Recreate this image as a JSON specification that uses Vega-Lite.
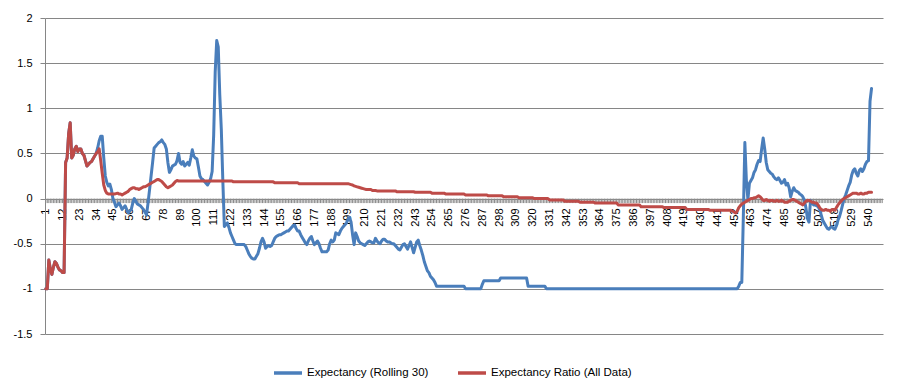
{
"$schema": "https://vega.github.io/schema/vega-lite/v6.json",
"width": 838, "height": 316,
"autosize": "none",
"padding": {"left": 45, "top": 18, "right": 19, "bottom": 52},
"background": "white",
"config": {"view": {"stroke": null}, "font": "Liberation Sans", "axisX": {"labelOverlap": false}},
"data": {"values": [
{"i":1,"a":-1,"b":-1},{"i":2,"a":-1,"b":-1},{"i":3,"a":-0.68,"b":-0.68},{"i":4,"a":-0.78,"b":-0.78},{"i":5,"a":-0.84,"b":-0.84},
{"i":6,"a":-0.76,"b":-0.76},{"i":7,"a":-0.7,"b":-0.7},{"i":8,"a":-0.72,"b":-0.72},{"i":9,"a":-0.76,"b":-0.76},{"i":10,"a":-0.79,"b":-0.79},
{"i":11,"a":-0.8,"b":-0.8},{"i":12,"a":-0.82,"b":-0.82},{"i":13,"a":-0.82,"b":-0.82},{"i":14,"a":0.4,"b":0.4},{"i":15,"a":0.45,"b":0.45},
{"i":16,"a":0.72,"b":0.72},{"i":17,"a":0.84,"b":0.84},{"i":18,"a":0.45,"b":0.45},{"i":19,"a":0.48,"b":0.48},{"i":20,"a":0.55,"b":0.55},
{"i":21,"a":0.58,"b":0.58},{"i":22,"a":0.52,"b":0.52},{"i":23,"a":0.55,"b":0.55},{"i":24,"a":0.55,"b":0.55},{"i":25,"a":0.5,"b":0.5},
{"i":26,"a":0.48,"b":0.48},{"i":27,"a":0.42,"b":0.42},{"i":28,"a":0.36,"b":0.36},{"i":29,"a":0.38,"b":0.38},{"i":30,"a":0.4,"b":0.4},
{"i":31,"a":0.41,"b":0.41},{"i":32,"a":0.44,"b":0.44},{"i":33,"a":0.47,"b":0.47},{"i":34,"a":0.5,"b":0.5},{"i":35,"a":0.56,"b":0.52},
{"i":36,"a":0.64,"b":0.55},{"i":37,"a":0.69,"b":0.42},{"i":38,"a":0.69,"b":0.28},{"i":39,"a":0.45,"b":0.15},{"i":40,"a":0.25,"b":0.09},
{"i":41,"a":0.18,"b":0.06},{"i":42,"a":0.14,"b":0.05},{"i":43,"a":0.16,"b":0.05},{"i":44,"a":0.1,"b":0.05},{"i":45,"a":0,"b":0.05},
{"i":46,"a":-0.04,"b":0.05},{"i":47,"a":-0.09,"b":0.055},{"i":48,"a":-0.07,"b":0.06},{"i":49,"a":-0.05,"b":0.05},{"i":50,"a":-0.08,"b":0.05},
{"i":51,"a":-0.12,"b":0.04},{"i":52,"a":-0.1,"b":0.05},{"i":53,"a":-0.08,"b":0.06},{"i":54,"a":-0.12,"b":0.07},{"i":55,"a":-0.16,"b":0.08},
{"i":56,"a":-0.14,"b":0.1},{"i":57,"a":-0.12,"b":0.11},{"i":58,"a":-0.05,"b":0.12},{"i":59,"a":0,"b":0.12},{"i":60,"a":-0.03,"b":0.11},
{"i":61,"a":-0.06,"b":0.11},{"i":62,"a":-0.07,"b":0.1},{"i":63,"a":-0.08,"b":0.11},{"i":64,"a":-0.1,"b":0.12},{"i":65,"a":-0.12,"b":0.13},
{"i":66,"a":-0.15,"b":0.13},{"i":67,"a":-0.18,"b":0.14},{"i":68,"a":-0.05,"b":0.15},{"i":69,"a":0.1,"b":0.16},{"i":70,"a":0.25,"b":0.17},
{"i":71,"a":0.4,"b":0.18},{"i":72,"a":0.56,"b":0.19},{"i":73,"a":0.58,"b":0.2},{"i":74,"a":0.6,"b":0.21},{"i":75,"a":0.62,"b":0.21},
{"i":76,"a":0.63,"b":0.2},{"i":77,"a":0.65,"b":0.19},{"i":78,"a":0.62,"b":0.17},{"i":79,"a":0.6,"b":0.15},{"i":80,"a":0.55,"b":0.13},
{"i":81,"a":0.4,"b":0.12},{"i":82,"a":0.29,"b":0.13},{"i":83,"a":0.32,"b":0.14},{"i":84,"a":0.36,"b":0.15},{"i":85,"a":0.37,"b":0.17},
{"i":86,"a":0.38,"b":0.19},{"i":87,"a":0.42,"b":0.2},{"i":88,"a":0.5,"b":0.195},{"i":89,"a":0.4,"b":0.195},{"i":90,"a":0.38,"b":0.195},
{"i":91,"a":0.41,"b":0.195},{"i":92,"a":0.36,"b":0.195},{"i":93,"a":0.38,"b":0.195},{"i":94,"a":0.4,"b":0.195},{"i":95,"a":0.37,"b":0.195},
{"i":96,"a":0.45,"b":0.195},{"i":97,"a":0.54,"b":0.195},{"i":98,"a":0.47,"b":0.195},{"i":99,"a":0.45,"b":0.195},{"i":100,"a":0.44,"b":0.195},
{"i":101,"a":0.35,"b":0.195},{"i":102,"a":0.25,"b":0.195},{"i":103,"a":0.22,"b":0.195},{"i":104,"a":0.21,"b":0.195},{"i":105,"a":0.19,"b":0.195},
{"i":106,"a":0.17,"b":0.195},{"i":107,"a":0.15,"b":0.195},{"i":108,"a":0.18,"b":0.195},{"i":109,"a":0.22,"b":0.195},{"i":110,"a":0.3,"b":0.195},
{"i":111,"a":0.7,"b":0.195},{"i":112,"a":1.4,"b":0.195},{"i":113,"a":1.75,"b":0.195},{"i":114,"a":1.68,"b":0.195},{"i":115,"a":1.15,"b":0.195},
{"i":116,"a":0.77,"b":0.195},{"i":117,"a":0.2,"b":0.195},{"i":118,"a":-0.31,"b":0.195},{"i":119,"a":-0.29,"b":0.195},{"i":120,"a":-0.27,"b":0.195},
{"i":121,"a":-0.32,"b":0.195},{"i":122,"a":-0.38,"b":0.195},{"i":123,"a":-0.42,"b":0.195},{"i":124,"a":-0.46,"b":0.185},{"i":125,"a":-0.5,"b":0.185},
{"i":126,"a":-0.51,"b":0.185},{"i":127,"a":-0.51,"b":0.185},{"i":128,"a":-0.51,"b":0.185},{"i":129,"a":-0.51,"b":0.185},{"i":130,"a":-0.51,"b":0.185},
{"i":131,"a":-0.51,"b":0.185},{"i":132,"a":-0.53,"b":0.185},{"i":133,"a":-0.57,"b":0.185},{"i":134,"a":-0.61,"b":0.185},{"i":135,"a":-0.64,"b":0.185},
{"i":136,"a":-0.66,"b":0.185},{"i":137,"a":-0.67,"b":0.185},{"i":138,"a":-0.67,"b":0.185},{"i":139,"a":-0.64,"b":0.185},{"i":140,"a":-0.61,"b":0.185},
{"i":141,"a":-0.55,"b":0.185},{"i":142,"a":-0.48,"b":0.185},{"i":143,"a":-0.44,"b":0.185},{"i":144,"a":-0.48,"b":0.185},{"i":145,"a":-0.55,"b":0.185},
{"i":146,"a":-0.53,"b":0.185},{"i":147,"a":-0.52,"b":0.185},{"i":148,"a":-0.53,"b":0.185},{"i":149,"a":-0.52,"b":0.185},{"i":150,"a":-0.48,"b":0.185},
{"i":151,"a":-0.44,"b":0.175},{"i":152,"a":-0.42,"b":0.175},{"i":153,"a":-0.41,"b":0.175},{"i":154,"a":-0.4,"b":0.175},{"i":155,"a":-0.4,"b":0.175},
{"i":156,"a":-0.39,"b":0.175},{"i":157,"a":-0.38,"b":0.175},{"i":158,"a":-0.37,"b":0.175},{"i":159,"a":-0.36,"b":0.175},{"i":160,"a":-0.36,"b":0.175},
{"i":161,"a":-0.34,"b":0.175},{"i":162,"a":-0.32,"b":0.175},{"i":163,"a":-0.3,"b":0.175},{"i":164,"a":-0.29,"b":0.175},{"i":165,"a":-0.33,"b":0.175},
{"i":166,"a":-0.36,"b":0.175},{"i":167,"a":-0.36,"b":0.165},{"i":168,"a":-0.4,"b":0.165},{"i":169,"a":-0.43,"b":0.165},{"i":170,"a":-0.46,"b":0.165},
{"i":171,"a":-0.49,"b":0.165},{"i":172,"a":-0.51,"b":0.165},{"i":173,"a":-0.47,"b":0.165},{"i":174,"a":-0.44,"b":0.165},{"i":175,"a":-0.42,"b":0.165},
{"i":176,"a":-0.47,"b":0.165},{"i":177,"a":-0.51,"b":0.165},{"i":178,"a":-0.49,"b":0.165},{"i":179,"a":-0.47,"b":0.165},{"i":180,"a":-0.5,"b":0.165},
{"i":181,"a":-0.55,"b":0.165},{"i":182,"a":-0.59,"b":0.165},{"i":183,"a":-0.59,"b":0.165},{"i":184,"a":-0.59,"b":0.165},{"i":185,"a":-0.59,"b":0.165},
{"i":186,"a":-0.57,"b":0.165},{"i":187,"a":-0.5,"b":0.165},{"i":188,"a":-0.46,"b":0.165},{"i":189,"a":-0.48,"b":0.165},{"i":190,"a":-0.46,"b":0.165},
{"i":191,"a":-0.38,"b":0.165},{"i":192,"a":-0.39,"b":0.165},{"i":193,"a":-0.4,"b":0.165},{"i":194,"a":-0.36,"b":0.165},{"i":195,"a":-0.33,"b":0.165},
{"i":196,"a":-0.31,"b":0.165},{"i":197,"a":-0.29,"b":0.165},{"i":198,"a":-0.27,"b":0.165},{"i":199,"a":-0.23,"b":0.165},{"i":200,"a":-0.21,"b":0.16},
{"i":201,"a":-0.26,"b":0.155},{"i":202,"a":-0.4,"b":0.15},{"i":203,"a":-0.51,"b":0.14},{"i":204,"a":-0.38,"b":0.135},{"i":205,"a":-0.42,"b":0.13},
{"i":206,"a":-0.47,"b":0.125},{"i":207,"a":-0.49,"b":0.12},{"i":208,"a":-0.5,"b":0.115},{"i":209,"a":-0.51,"b":0.11},{"i":210,"a":-0.52,"b":0.105},
{"i":211,"a":-0.5,"b":0.1},{"i":212,"a":-0.48,"b":0.1},{"i":213,"a":-0.47,"b":0.1},{"i":214,"a":-0.48,"b":0.1},{"i":215,"a":-0.49,"b":0.09},
{"i":216,"a":-0.49,"b":0.09},{"i":217,"a":-0.44,"b":0.09},{"i":218,"a":-0.47,"b":0.085},{"i":219,"a":-0.49,"b":0.085},{"i":220,"a":-0.5,"b":0.085},
{"i":221,"a":-0.47,"b":0.085},{"i":222,"a":-0.45,"b":0.085},{"i":223,"a":-0.45,"b":0.085},{"i":224,"a":-0.47,"b":0.085},{"i":225,"a":-0.48,"b":0.085},
{"i":226,"a":-0.48,"b":0.085},{"i":227,"a":-0.49,"b":0.085},{"i":228,"a":-0.5,"b":0.085},{"i":229,"a":-0.5,"b":0.085},{"i":230,"a":-0.52,"b":0.085},
{"i":231,"a":-0.54,"b":0.075},{"i":232,"a":-0.56,"b":0.075},{"i":233,"a":-0.57,"b":0.075},{"i":234,"a":-0.54,"b":0.075},{"i":235,"a":-0.51,"b":0.075},
{"i":236,"a":-0.5,"b":0.075},{"i":237,"a":-0.53,"b":0.075},{"i":238,"a":-0.56,"b":0.075},{"i":239,"a":-0.52,"b":0.075},{"i":240,"a":-0.48,"b":0.075},
{"i":241,"a":-0.54,"b":0.075},{"i":242,"a":-0.6,"b":0.075},{"i":243,"a":-0.54,"b":0.07},{"i":244,"a":-0.48,"b":0.07},{"i":245,"a":-0.46,"b":0.07},
{"i":246,"a":-0.52,"b":0.07},{"i":247,"a":-0.57,"b":0.07},{"i":248,"a":-0.63,"b":0.07},{"i":249,"a":-0.7,"b":0.07},{"i":250,"a":-0.75,"b":0.07},
{"i":251,"a":-0.8,"b":0.07},{"i":252,"a":-0.82,"b":0.07},{"i":253,"a":-0.86,"b":0.07},{"i":254,"a":-0.88,"b":0.06},{"i":255,"a":-0.9,"b":0.06},
{"i":256,"a":-0.93,"b":0.06},{"i":257,"a":-0.97,"b":0.06},{"i":258,"a":-0.97,"b":0.06},{"i":259,"a":-0.97,"b":0.06},{"i":260,"a":-0.97,"b":0.06},
{"i":261,"a":-0.97,"b":0.06},{"i":262,"a":-0.97,"b":0.06},{"i":263,"a":-0.97,"b":0.05},{"i":264,"a":-0.97,"b":0.05},{"i":265,"a":-0.97,"b":0.05},
{"i":266,"a":-0.97,"b":0.05},{"i":267,"a":-0.97,"b":0.05},{"i":268,"a":-0.97,"b":0.05},{"i":269,"a":-0.97,"b":0.05},{"i":270,"a":-0.97,"b":0.05},
{"i":271,"a":-0.97,"b":0.05},{"i":272,"a":-0.97,"b":0.05},{"i":273,"a":-0.97,"b":0.05},{"i":274,"a":-0.97,"b":0.05},{"i":275,"a":-0.97,"b":0.05},
{"i":276,"a":-1,"b":0.04},{"i":277,"a":-1,"b":0.04},{"i":278,"a":-1,"b":0.04},{"i":279,"a":-1,"b":0.04},{"i":280,"a":-1,"b":0.04},
{"i":281,"a":-1,"b":0.04},{"i":282,"a":-1,"b":0.04},{"i":283,"a":-1,"b":0.04},{"i":284,"a":-1,"b":0.04},{"i":285,"a":-1,"b":0.04},
{"i":286,"a":-1,"b":0.04},{"i":287,"a":-0.95,"b":0.04},{"i":288,"a":-0.91,"b":0.04},{"i":289,"a":-0.91,"b":0.04},{"i":290,"a":-0.91,"b":0.04},
{"i":291,"a":-0.91,"b":0.03},{"i":292,"a":-0.91,"b":0.03},{"i":293,"a":-0.91,"b":0.03},{"i":294,"a":-0.91,"b":0.03},{"i":295,"a":-0.91,"b":0.03},
{"i":296,"a":-0.91,"b":0.03},{"i":297,"a":-0.91,"b":0.03},{"i":298,"a":-0.91,"b":0.03},{"i":299,"a":-0.88,"b":0.03},{"i":300,"a":-0.88,"b":0.03},
{"i":301,"a":-0.88,"b":0.02},{"i":302,"a":-0.88,"b":0.02},{"i":303,"a":-0.88,"b":0.02},{"i":304,"a":-0.88,"b":0.02},{"i":305,"a":-0.88,"b":0.02},
{"i":306,"a":-0.88,"b":0.02},{"i":307,"a":-0.88,"b":0.02},{"i":308,"a":-0.88,"b":0.02},{"i":309,"a":-0.88,"b":0.02},{"i":310,"a":-0.88,"b":0.02},
{"i":311,"a":-0.88,"b":0.01},{"i":312,"a":-0.88,"b":0.01},{"i":313,"a":-0.88,"b":0.01},{"i":314,"a":-0.88,"b":0.01},{"i":315,"a":-0.88,"b":0.01},
{"i":316,"a":-0.88,"b":0.01},{"i":317,"a":-0.97,"b":0.01},{"i":318,"a":-0.97,"b":0.01},{"i":319,"a":-0.97,"b":0.01},{"i":320,"a":-0.97,"b":0.01},
{"i":321,"a":-0.97,"b":0},{"i":322,"a":-0.97,"b":0},{"i":323,"a":-0.97,"b":0},{"i":324,"a":-0.97,"b":0},{"i":325,"a":-0.97,"b":0},
{"i":326,"a":-0.97,"b":0},{"i":327,"a":-0.97,"b":0},{"i":328,"a":-0.97,"b":0},{"i":329,"a":-1,"b":0},{"i":330,"a":-1,"b":0},
{"i":331,"a":-1,"b":-0.015},{"i":332,"a":-1,"b":-0.015},{"i":333,"a":-1,"b":-0.015},{"i":334,"a":-1,"b":-0.015},{"i":335,"a":-1,"b":-0.015},
{"i":336,"a":-1,"b":-0.015},{"i":337,"a":-1,"b":-0.015},{"i":338,"a":-1,"b":-0.015},{"i":339,"a":-1,"b":-0.015},{"i":340,"a":-1,"b":-0.015},
{"i":341,"a":-1,"b":-0.03},{"i":342,"a":-1,"b":-0.03},{"i":343,"a":-1,"b":-0.03},{"i":344,"a":-1,"b":-0.03},{"i":345,"a":-1,"b":-0.03},
{"i":346,"a":-1,"b":-0.03},{"i":347,"a":-1,"b":-0.03},{"i":348,"a":-1,"b":-0.03},{"i":349,"a":-1,"b":-0.03},{"i":350,"a":-1,"b":-0.03},
{"i":351,"a":-1,"b":-0.04},{"i":352,"a":-1,"b":-0.04},{"i":353,"a":-1,"b":-0.04},{"i":354,"a":-1,"b":-0.04},{"i":355,"a":-1,"b":-0.04},
{"i":356,"a":-1,"b":-0.04},{"i":357,"a":-1,"b":-0.04},{"i":358,"a":-1,"b":-0.04},{"i":359,"a":-1,"b":-0.04},{"i":360,"a":-1,"b":-0.04},
{"i":361,"a":-1,"b":-0.05},{"i":362,"a":-1,"b":-0.05},{"i":363,"a":-1,"b":-0.05},{"i":364,"a":-1,"b":-0.05},{"i":365,"a":-1,"b":-0.05},
{"i":366,"a":-1,"b":-0.05},{"i":367,"a":-1,"b":-0.05},{"i":368,"a":-1,"b":-0.05},{"i":369,"a":-1,"b":-0.05},{"i":370,"a":-1,"b":-0.05},
{"i":371,"a":-1,"b":-0.05},{"i":372,"a":-1,"b":-0.05},{"i":373,"a":-1,"b":-0.05},{"i":374,"a":-1,"b":-0.05},{"i":375,"a":-1,"b":-0.05},
{"i":376,"a":-1,"b":-0.07},{"i":377,"a":-1,"b":-0.07},{"i":378,"a":-1,"b":-0.07},{"i":379,"a":-1,"b":-0.07},{"i":380,"a":-1,"b":-0.07},
{"i":381,"a":-1,"b":-0.07},{"i":382,"a":-1,"b":-0.07},{"i":383,"a":-1,"b":-0.07},{"i":384,"a":-1,"b":-0.07},{"i":385,"a":-1,"b":-0.07},
{"i":386,"a":-1,"b":-0.07},{"i":387,"a":-1,"b":-0.07},{"i":388,"a":-1,"b":-0.07},{"i":389,"a":-1,"b":-0.07},{"i":390,"a":-1,"b":-0.07},
{"i":391,"a":-1,"b":-0.09},{"i":392,"a":-1,"b":-0.09},{"i":393,"a":-1,"b":-0.09},{"i":394,"a":-1,"b":-0.09},{"i":395,"a":-1,"b":-0.09},
{"i":396,"a":-1,"b":-0.09},{"i":397,"a":-1,"b":-0.09},{"i":398,"a":-1,"b":-0.09},{"i":399,"a":-1,"b":-0.09},{"i":400,"a":-1,"b":-0.09},
{"i":401,"a":-1,"b":-0.09},{"i":402,"a":-1,"b":-0.09},{"i":403,"a":-1,"b":-0.09},{"i":404,"a":-1,"b":-0.09},{"i":405,"a":-1,"b":-0.09},
{"i":406,"a":-1,"b":-0.1},{"i":407,"a":-1,"b":-0.1},{"i":408,"a":-1,"b":-0.1},{"i":409,"a":-1,"b":-0.1},{"i":410,"a":-1,"b":-0.1},
{"i":411,"a":-1,"b":-0.1},{"i":412,"a":-1,"b":-0.1},{"i":413,"a":-1,"b":-0.1},{"i":414,"a":-1,"b":-0.1},{"i":415,"a":-1,"b":-0.1},
{"i":416,"a":-1,"b":-0.1},{"i":417,"a":-1,"b":-0.1},{"i":418,"a":-1,"b":-0.1},{"i":419,"a":-1,"b":-0.1},{"i":420,"a":-1,"b":-0.1},
{"i":421,"a":-1,"b":-0.12},{"i":422,"a":-1,"b":-0.12},{"i":423,"a":-1,"b":-0.12},{"i":424,"a":-1,"b":-0.12},{"i":425,"a":-1,"b":-0.12},
{"i":426,"a":-1,"b":-0.12},{"i":427,"a":-1,"b":-0.12},{"i":428,"a":-1,"b":-0.12},{"i":429,"a":-1,"b":-0.12},{"i":430,"a":-1,"b":-0.12},
{"i":431,"a":-1,"b":-0.12},{"i":432,"a":-1,"b":-0.12},{"i":433,"a":-1,"b":-0.12},{"i":434,"a":-1,"b":-0.12},{"i":435,"a":-1,"b":-0.12},
{"i":436,"a":-1,"b":-0.13},{"i":437,"a":-1,"b":-0.13},{"i":438,"a":-1,"b":-0.13},{"i":439,"a":-1,"b":-0.13},{"i":440,"a":-1,"b":-0.13},
{"i":441,"a":-1,"b":-0.13},{"i":442,"a":-1,"b":-0.13},{"i":443,"a":-1,"b":-0.13},{"i":444,"a":-1,"b":-0.13},{"i":445,"a":-1,"b":-0.13},
{"i":446,"a":-1,"b":-0.13},{"i":447,"a":-1,"b":-0.13},{"i":448,"a":-1,"b":-0.13},{"i":449,"a":-1,"b":-0.13},{"i":450,"a":-1,"b":-0.13},
{"i":451,"a":-1,"b":-0.14},{"i":452,"a":-1,"b":-0.15},{"i":453,"a":-1,"b":-0.16},{"i":454,"a":-1,"b":-0.14},{"i":455,"a":-0.97,"b":-0.1},
{"i":456,"a":-0.93,"b":-0.08},{"i":457,"a":-0.93,"b":-0.06},{"i":458,"a":-0.2,"b":-0.05},{"i":459,"a":0.62,"b":-0.04},{"i":460,"a":0.2,"b":-0.03},
{"i":461,"a":-0.01,"b":-0.02},{"i":462,"a":0.17,"b":-0.01},{"i":463,"a":0.2,"b":0},{"i":464,"a":0.23,"b":0},{"i":465,"a":0.29,"b":0.01},
{"i":466,"a":0.32,"b":0.01},{"i":467,"a":0.38,"b":0.02},{"i":468,"a":0.42,"b":0.03},{"i":469,"a":0.41,"b":0.02},{"i":470,"a":0.55,"b":0},
{"i":471,"a":0.67,"b":-0.02},{"i":472,"a":0.55,"b":-0.02},{"i":473,"a":0.4,"b":-0.01},{"i":474,"a":0.32,"b":-0.02},{"i":475,"a":0.3,"b":-0.03},
{"i":476,"a":0.28,"b":-0.02},{"i":477,"a":0.27,"b":-0.02},{"i":478,"a":0.24,"b":-0.03},{"i":479,"a":0.22,"b":-0.03},{"i":480,"a":0.21,"b":-0.02},
{"i":481,"a":0.23,"b":-0.03},{"i":482,"a":0.2,"b":-0.03},{"i":483,"a":0.17,"b":-0.02},{"i":484,"a":0.18,"b":-0.03},{"i":485,"a":0.21,"b":-0.04},
{"i":486,"a":0.15,"b":-0.04},{"i":487,"a":0.17,"b":-0.04},{"i":488,"a":0.12,"b":-0.03},{"i":489,"a":0.02,"b":-0.02},{"i":490,"a":0.08,"b":-0.01},
{"i":491,"a":0.12,"b":-0.01},{"i":492,"a":0.09,"b":-0.02},{"i":493,"a":0.08,"b":-0.03},{"i":494,"a":0.07,"b":-0.04},{"i":495,"a":0.05,"b":-0.05},
{"i":496,"a":0.04,"b":-0.06},{"i":497,"a":0.02,"b":-0.07},{"i":498,"a":-0.02,"b":-0.05},{"i":499,"a":-0.1,"b":-0.03},{"i":500,"a":-0.22,"b":-0.02},
{"i":501,"a":-0.26,"b":-0.02},{"i":502,"a":-0.02,"b":-0.03},{"i":503,"a":-0.05,"b":-0.04},{"i":504,"a":-0.07,"b":-0.04},{"i":505,"a":-0.07,"b":-0.05},
{"i":506,"a":-0.08,"b":-0.05},{"i":507,"a":-0.09,"b":-0.07},{"i":508,"a":-0.12,"b":-0.1},{"i":509,"a":-0.18,"b":-0.12},{"i":510,"a":-0.24,"b":-0.13},
{"i":511,"a":-0.27,"b":-0.13},{"i":512,"a":-0.3,"b":-0.12},{"i":513,"a":-0.33,"b":-0.13},{"i":514,"a":-0.34,"b":-0.13},{"i":515,"a":-0.32,"b":-0.14},
{"i":516,"a":-0.31,"b":-0.12},{"i":517,"a":-0.33,"b":-0.12},{"i":518,"a":-0.34,"b":-0.13},{"i":519,"a":-0.3,"b":-0.1},{"i":520,"a":-0.24,"b":-0.07},
{"i":521,"a":-0.2,"b":-0.05},{"i":522,"a":-0.14,"b":-0.03},{"i":523,"a":-0.07,"b":-0.01},{"i":524,"a":0,"b":0},{"i":525,"a":0.04,"b":0.01},
{"i":526,"a":0.09,"b":0.02},{"i":527,"a":0.14,"b":0.03},{"i":528,"a":0.18,"b":0.04},{"i":529,"a":0.26,"b":0.05},{"i":530,"a":0.31,"b":0.06},
{"i":531,"a":0.33,"b":0.06},{"i":532,"a":0.28,"b":0.06},{"i":533,"a":0.25,"b":0.05},{"i":534,"a":0.31,"b":0.05},{"i":535,"a":0.33,"b":0.06},
{"i":536,"a":0.3,"b":0.05},{"i":537,"a":0.33,"b":0.05},{"i":538,"a":0.38,"b":0.06},{"i":539,"a":0.41,"b":0.06},{"i":540,"a":0.42,"b":0.07},
{"i":541,"a":1.08,"b":0.07},{"i":542,"a":1.22,"b":0.07},{"i":543},{"i":544},{"i":545},
{"i":546},{"i":547},{"i":548},{"i":549}
]},
"encoding": {
"x": {"field": "i", "type": "quantitative",
"scale": {"domain": [0.5, 549.5], "nice": false, "zero": false},
"axis": {"orient": "bottom", "offset": -135, "title": null, "domain": false, "ticks": false, "tickSize": 0, "grid": false,
"values": [1,12,23,34,45,56,67,78,89,100,111,122,133,144,155,166,177,188,199,210,221,232,243,254,265,276,287,298,309,320,331,342,353,364,375,386,397,408,419,430,441,452,463,474,485,496,507,518,529,540],
"labelAngle": -90, "labelPadding": 9, "labelFontSize": 11, "labelColor": "#000000", "labelOverlap": false, "labelFlush": false, "labelBound": false}}
},
"layer": [
{
"mark": {"type": "rule", "color": "#8c8c8c", "strokeWidth": 1},
"encoding": {
"y": {"datum": 0, "type": "quantitative",
"scale": {"domain": [-1.5, 2], "nice": false, "zero": false},
"axis": {"title": null, "grid": true, "gridColor": "#868686", "gridWidth": 1, "domain": true, "domainColor": "#868686", "ticks": true, "tickColor": "#868686", "tickSize": 5, "labelPadding": 8, "labelFontSize": 11, "labelColor": "#000000",
"values": [-1.5,-1,-0.5,0,0.5,1,1.5,2], "labelExpr": "datum.value + ''"}},
"y2": {"datum": -0.05}
}
},
{
"mark": {"type": "line", "strokeWidth": 3, "strokeJoin": "round", "strokeCap": "round"},
"encoding": {
"y": {"field": "a", "type": "quantitative"},
"color": {"datum": "Expectancy (Rolling 30)", "type": "nominal",
"scale": {"domain": ["Expectancy (Rolling 30)", "Expectancy Ratio (All Data)"], "range": ["#4A7EBB", "#BE4B48"]},
"legend": {"title": null, "orient": "none", "direction": "horizontal", "legendX": 227, "legendY": 339, "symbolType": "stroke", "symbolSize": 784, "symbolStrokeWidth": 3.5, "labelFontSize": 11.5, "labelColor": "#000000", "labelOffset": 3, "columnPadding": 22, "padding": 0}}
}
},
{
"mark": {"type": "line", "strokeWidth": 3, "strokeJoin": "round", "strokeCap": "round"},
"encoding": {
"y": {"field": "b", "type": "quantitative"},
"color": {"datum": "Expectancy Ratio (All Data)", "type": "nominal"}
}
}
]
}
